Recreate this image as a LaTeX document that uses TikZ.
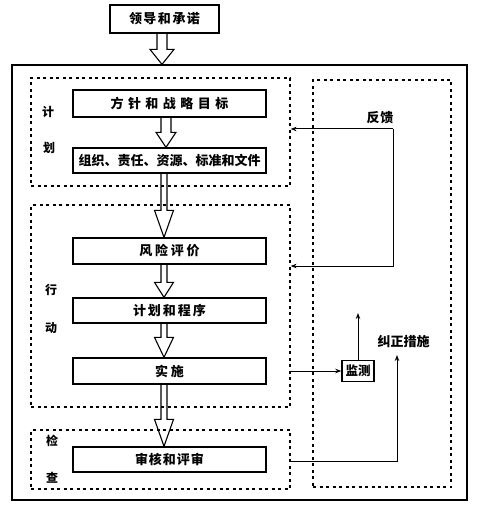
\documentclass[tikz,border=0pt]{standalone}
\usepackage{fontspec}
\newfontfamily\cjk{Noto Sans CJK SC}
\usetikzlibrary{arrows.meta,calc}
\newcommand\harrow[5]{%
  \draw[hollow] let \p1=(#1), \p2=(#2) in
    (\x1-#3,\y1) -- (\x1-#3,\y2+#5) -- (\x1-#4,\y2+#5) -- (\x1,\y2)
    -- (\x1+#4,\y2+#5) -- (\x1+#3,\y2+#5) -- (\x1+#3,\y1);}
\begin{document}
\begin{tikzpicture}[x=1pt,y=-1pt,
  box/.style={draw, line width=1.3pt, minimum width=193pt, inner sep=0pt,
    font=\cjk\bfseries\fontsize{13}{15}\selectfont},
  region/.style={draw, dash pattern=on 3pt off 3.5pt, line width=1.2pt, inner sep=0pt},
  outerbox/.style={draw, line width=1.2pt, inner sep=0pt},
  hollow/.style={line width=1.1pt, line join=miter},
  conn/.style={line width=1pt, -{Stealth[length=6pt,width=4.5pt]}},
  lbl/.style={font=\cjk\bfseries\fontsize{13}{15}\selectfont, inner sep=0pt},
  side/.style={font=\cjk\bfseries\fontsize{12}{14}\selectfont, inner sep=0pt},
  mon/.style={draw, line width=1.5pt, inner sep=0pt, minimum width=32pt, minimum height=21pt,
    font=\cjk\bfseries\fontsize{12.5}{14}\selectfont}]
\useasboundingbox (0,0) rectangle (477,513);

% frames
\node[outerbox, minimum width=455pt, minimum height=435pt] (outer) at (239.5,282.5) {};
\node[region, minimum width=259pt, minimum height=108pt] (plan) at (160.5,132) {};
\node[region, minimum width=259pt, minimum height=202pt] (act) at (160.5,306) {};
\node[region, minimum width=259pt, minimum height=59pt] (check) at (160.5,459.5) {};
\node[region, minimum width=138pt, minimum height=407pt] (right) at (382,283.5) {};

% boxes
\node[box, minimum width=109pt, minimum height=28pt] (top) at (164.5,19) {领\kern1.5pt导\kern1.5pt和\kern1.5pt承\kern1.5pt诺};
\node[box, minimum height=27pt] (b1) at (169.5,103.5) {方\kern4.5pt针\kern4.5pt和\kern4.5pt战\kern4.5pt略\kern4.5pt目\kern4.5pt标};
\node[box, minimum height=25pt] (b2) at (169.5,160.5) {组织、责任、资源、标准和文件};
\node[box, minimum height=26pt] (b3) at (169.5,251) {风\kern2.7pt险\kern2.7pt评\kern2.7pt价};
\node[box, minimum height=25pt] (b4) at (169.5,310.5) {计\kern2pt划\kern2pt和\kern2pt程\kern2pt序};
\node[box, minimum height=26pt] (b5) at (169.5,371) {实\kern3pt施};
\node[box, minimum height=25pt] (b6) at (169.5,459.5) {审\kern1pt核\kern1pt和\kern1pt评\kern1pt审};

% hollow arrows
\harrow{$(top.south)+(-2.5,0)$}{outer.north}{5pt}{12pt}{15pt}
\harrow{$(b1.south)+(-3.5,0)$}{b2.north}{5pt}{10pt}{15pt}
\harrow{$(b2.south)+(-5.5,0)$}{b3.north}{3pt}{9.5pt}{27pt}
\harrow{$(b3.south)+(-5.5,0)$}{b4.north}{3pt}{9.5pt}{15pt}
\harrow{$(b4.south)+(-5.5,0)$}{b5.north}{3pt}{9.5pt}{20pt}
\harrow{$(b5.south)+(-5.5,0)$}{b6.north}{3pt}{9.5pt}{27pt}

% side labels
\node[side] (s1) at (48,112) {计};
\node[side] (s2) at (49,148) {划};
\node[side] (s3) at (51,290) {行};
\node[side] (s4) at (51,328) {动};
\node[side] (s5) at (52,441) {检};
\node[side] (s6) at (52,478) {查};

% feedback loop
\node[lbl] (fbtxt) at (380,118) {反\kern1pt馈};
\coordinate (fbt) at (393,129);
\coordinate (fbb) at (393,266);
\draw[conn] (fbt) -- (fbt -| plan.east);
\draw[conn] (fbt) -- (fbb) -- (fbb -| act.east);

% monitoring
\node[mon] (mon) at (358,371) {监测};
\draw[conn] (act.east |- mon.west) -- (mon.west);
\coordinate (mu) at (358,313);
\draw[conn] (mon.north) -- (mu);

% corrective action
\node[lbl] (jz) at (403.5,342) {纠正措施};
\coordinate (ck) at (397,461);
\coordinate (ca) at (397,355);
\draw[conn] (check.east |- ck) -- (ck) -- (ca);
\end{tikzpicture}
\end{document}
